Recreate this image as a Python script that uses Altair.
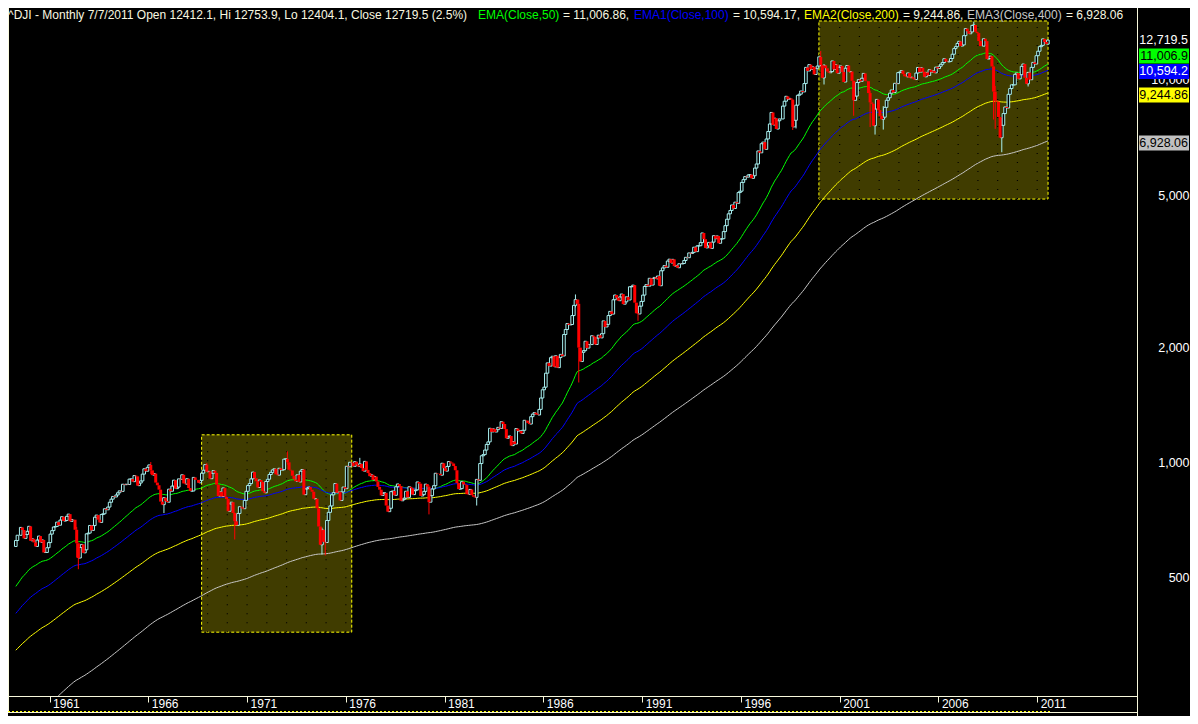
import altair as alt
import pandas as pd

# ---------------- data ----------------
first_open = 601.71          # open of the first candle (Apr 1959)
last_open = 12412.1          # open of the last candle (Jul 2011, from the header)
start_year, start_month = 1959, 4

closes_1959_1964 = [
    623.75, 643.79, 643.60, 674.88, 664.41, 631.68, 646.60, 659.18, 679.36,
    622.62, 630.12, 616.59, 601.70, 625.50, 640.62, 616.73, 625.99, 580.14, 580.36, 597.22, 615.89,
    648.20, 662.08, 676.63, 678.71, 696.72, 683.96, 705.37, 719.94, 701.21, 703.92, 721.60, 731.14,
    700.00, 708.05, 706.95, 665.33, 613.36, 561.28, 597.93, 609.18, 578.98, 589.77, 649.30, 652.10,
    682.85, 662.94, 682.52, 717.70, 726.96, 706.88, 695.43, 729.32, 732.79, 755.23, 750.52, 762.95,
    785.34, 800.14, 813.29, 810.77, 820.56, 831.50, 841.10, 838.48, 875.37, 873.08, 875.43, 874.13,
]
closes_1965_1969 = [
    902.86, 903.48, 889.05, 922.31, 918.04, 868.03, 881.74, 893.10, 930.58, 960.82, 946.71, 969.26,
    983.51, 951.89, 924.77, 933.68, 884.07, 870.10, 847.38, 788.41, 774.22, 807.07, 791.59, 785.69,
    849.89, 839.37, 865.98, 897.05, 852.56, 860.26, 904.24, 901.29, 926.66, 879.74, 875.81, 905.11,
    855.47, 840.50, 840.67, 912.22, 899.00, 897.80, 883.00, 896.01, 935.79, 952.39, 985.08, 943.75,
    946.05, 905.21, 935.48, 950.18, 937.56, 873.19, 815.47, 836.72, 813.09, 855.99, 812.30, 800.36,
]
closes_1970_1979 = [
    744.06, 777.59, 785.57, 736.07, 700.44, 683.53, 734.12, 764.58, 760.68, 755.61, 794.09, 838.92,
    868.50, 878.83, 904.37, 941.75, 907.81, 891.14, 858.43, 898.07, 887.19, 839.00, 831.34, 890.20,
    902.17, 928.13, 940.70, 954.17, 960.72, 929.03, 924.74, 963.73, 953.27, 955.52, 1018.21, 1020.02,
    999.02, 955.07, 951.01, 921.43, 901.41, 891.71, 926.40, 887.57, 947.10, 956.58, 822.25, 850.86,
    855.55, 860.53, 846.68, 836.75, 802.17, 802.41, 757.43, 678.58, 607.87, 665.52, 618.66, 616.24,
    703.69, 739.05, 768.15, 821.34, 832.29, 878.99, 831.51, 835.34, 793.88, 836.04, 860.67, 852.41,
    975.28, 972.61, 999.45, 996.85, 975.23, 1002.78, 984.64, 973.74, 990.19, 964.93, 947.22, 1004.65,
    954.37, 936.42, 919.13, 926.90, 898.66, 916.30, 890.07, 861.49, 847.11, 818.35, 829.70, 831.17,
    769.92, 742.12, 757.36, 837.32, 840.61, 818.95, 862.27, 876.82, 865.82, 792.45, 799.03, 805.01,
    839.22, 808.82, 862.18, 854.90, 822.33, 841.98, 846.42, 887.63, 878.58, 815.70, 822.35, 838.74,
]
closes_1980_1989 = [
    875.85, 863.14, 785.75, 817.06, 850.85, 867.92, 935.32, 932.59, 932.42, 924.49, 993.34, 963.99,
    947.27, 974.58, 1003.87, 997.75, 991.75, 976.88, 952.34, 881.47, 849.98, 852.55, 888.98, 875.00,
    871.10, 824.39, 822.77, 848.36, 819.54, 811.93, 808.60, 901.31, 896.25, 991.72, 1039.28, 1046.54,
    1075.70, 1112.62, 1130.03, 1226.20, 1199.98, 1221.96, 1199.22, 1216.16, 1233.13, 1225.20, 1276.02, 1258.64,
    1220.58, 1154.63, 1164.89, 1170.75, 1104.85, 1132.40, 1115.28, 1224.38, 1206.71, 1207.38, 1188.94, 1211.57,
    1286.77, 1284.01, 1266.78, 1258.06, 1315.41, 1335.46, 1347.45, 1334.01, 1328.63, 1374.31, 1472.13, 1546.67,
    1570.99, 1709.06, 1818.61, 1783.98, 1876.71, 1892.72, 1775.31, 1898.34, 1767.58, 1877.81, 1914.23, 1895.95,
    2158.04, 2223.99, 2304.69, 2286.36, 2291.57, 2418.53, 2572.07, 2662.95, 2596.28, 1993.53, 1833.55, 1938.83,
    1958.22, 2071.62, 1988.06, 2032.33, 2031.12, 2141.71, 2128.73, 2031.65, 2112.91, 2148.65, 2114.51, 2168.57,
    2342.32, 2258.39, 2293.62, 2418.80, 2480.15, 2440.06, 2660.66, 2737.27, 2692.82, 2645.08, 2706.27, 2753.20,
]
closes_1990_1999 = [
    2590.54, 2627.25, 2707.21, 2656.76, 2876.66, 2880.69, 2905.20, 2614.36, 2452.48, 2442.33, 2559.65, 2633.66,
    2736.39, 2882.18, 2913.86, 2887.87, 3027.50, 2906.75, 3024.82, 3043.60, 3016.77, 3069.10, 2894.68, 3168.83,
    3223.39, 3267.67, 3235.47, 3359.12, 3396.88, 3318.52, 3393.78, 3257.35, 3271.66, 3226.28, 3305.16, 3301.11,
    3310.03, 3370.81, 3435.11, 3427.55, 3527.43, 3516.08, 3539.47, 3651.25, 3555.12, 3680.59, 3683.95, 3754.09,
    3978.36, 3832.02, 3635.96, 3681.69, 3758.37, 3624.96, 3764.50, 3913.42, 3843.19, 3908.12, 3739.23, 3834.44,
    3843.86, 4011.05, 4157.69, 4321.27, 4465.14, 4556.10, 4708.47, 4610.56, 4789.08, 4755.48, 5074.49, 5117.12,
    5395.30, 5485.62, 5587.14, 5569.08, 5643.18, 5654.63, 5528.91, 5616.21, 5882.17, 6029.38, 6521.70, 6448.27,
    6813.09, 6877.74, 6583.48, 7008.99, 7331.04, 7672.79, 8222.61, 7622.42, 7945.26, 7442.08, 7823.13, 7908.25,
    7906.50, 8545.72, 8799.81, 9063.37, 8899.95, 8952.02, 8883.29, 7539.07, 7842.62, 8592.10, 9116.55, 9181.43,
    9358.83, 9306.58, 9786.16, 10789.04, 10559.74, 10970.80, 10655.15, 10829.28, 10336.95, 10729.94, 10877.81, 11497.12,
]
closes_2000_2009 = [
    10940.53, 10128.31, 10921.92, 10733.91, 10522.33, 10447.89, 10521.98, 11215.10, 10650.92, 10971.14, 10414.49, 10786.85,
    10887.36, 10495.28, 9878.78, 10734.97, 10911.94, 10502.40, 10522.81, 9949.75, 8847.56, 9075.14, 9851.56, 10021.50,
    9920.00, 10106.13, 10403.94, 9946.22, 9925.25, 9243.26, 8736.59, 8663.50, 7591.93, 8397.03, 8896.09, 8341.63,
    8053.81, 7891.08, 7992.13, 8480.09, 8850.26, 8985.44, 9233.80, 9415.82, 9275.06, 9801.12, 9782.46, 10453.92,
    10488.07, 10583.92, 10357.70, 10225.57, 10188.45, 10435.48, 10139.71, 10173.92, 10080.27, 10027.47, 10428.02, 10783.01,
    10489.94, 10766.23, 10503.76, 10192.51, 10467.48, 10274.97, 10640.91, 10481.60, 10568.70, 10440.07, 10805.87, 10717.50,
    10864.86, 10993.41, 11109.32, 11367.14, 11168.31, 11150.22, 11185.68, 11381.15, 11679.07, 12080.73, 12221.93, 12463.15,
    12621.69, 12268.63, 12354.35, 13062.91, 13627.64, 13408.62, 13211.99, 13357.74, 13895.63, 13930.01, 13371.72, 13264.82,
    12650.36, 12266.39, 12262.89, 12820.13, 12638.32, 11350.01, 11378.02, 11543.55, 10850.66, 9325.01, 8829.04, 8776.39,
    8000.86, 7062.93, 7608.92, 8168.12, 8500.33, 8447.00, 9171.61, 9496.28, 9712.28, 9712.73, 10344.84, 10428.05,
]
closes_2010_2011 = [
    10067.33, 10325.26, 10856.63, 11008.61, 10136.63, 9774.02, 10465.94, 10014.72, 10788.05, 11118.49, 11006.02, 11577.51,
    11891.93, 12226.34, 12319.73, 12810.54, 12569.79, 12414.34, 12719.49,
]

# notable intramonth extremes (wicks)
wick_months = ["1962-05", "1962-06", "1966-02", "1966-10", "1968-12", "1970-05", "1973-01",
               "1974-10", "1974-12", "1976-09", "1980-03", "1982-08", "1987-08", "1987-10",
               "1990-10", "1998-08", "1998-10", "2000-01", "2000-03", "2001-09", "2002-07",
               "2002-10", "2003-03", "2007-10", "2008-10", "2008-11", "2009-03", "2010-07", "2011-07"]
wick_highs = [677, 616, 1000.5, 810, 994.7, 738, 1067.2, 674, 624, 1026.3, 870, 901, 2746.7, 2662,
              2534, 8900, 8600, 11908.5, 11000, 9900, 9380, 8400, 8540, 14198.1, 10900, 9650, 7970,
              10500, 12753.9]
wick_lows = [563, 524.6, 930, 735.7, 943, 627.5, 985, 573.2, 570.0, 980, 730, 770, 2540, 1616.2,
             2344.3, 7400, 7467, 10800, 9731.8, 8062.3, 7532.7, 7197.5, 7416.6, 13400, 7882.5,
             7449.4, 6469.95, 9614.3, 12404.1]

ema_names = ["EMA50", "EMA100", "EMA200", "EMA400"]
ema_periods = [50, 100, 200, 400]
ema_seeds = [473, 402, 322, 190]          # values of the averages at the first candle
ema_colors = ["#00ff00", "#0000ff", "#ffff00", "#c8c8c8"]

tick_years = [1961, 1966, 1971, 1976, 1981, 1986, 1991, 1996, 2001, 2006, 2011]
price_ticks = [500, 1000, 2000, 5000, 10000]

last_texts = ["12,719.5", "11,006.9", "10,594.2", "9,244.86", "6,928.06"]
last_values = [12719.5, 11006.86, 10594.17, 9244.86, 6928.06]
last_fills = [None, "#00ff00", "#0000ff", "#ffff00", "#c0c0c0"]
last_text_colors = ["#ffffff", "#000000", "#ffffff", "#000000", "#000000"]
last_shift = [0, -8, 1, 2, 2]

box_starts = [1968.7, 1999.95]
box_ends = [1976.3, 2011.55]
box_lows = [359, 4880]
box_highs = [1179, 14270]

title_texts = ["^DJI - Monthly 7/7/2011 Open 12412.1, Hi 12753.9, Lo 12404.1, Close 12719.5 (2.5%)",
               "EMA(Close,50)", "= 11,006.86,", "EMA1(Close,100)", "= 10,594.17,",
               "EMA2(Close,200)", "= 9,244.86,", "EMA3(Close,400)", "= 6,928.06"]
title_colors = ["#f8f8e0", "#00ff00", "#f8f8e0", "#0000ff", "#f8f8e0",
                "#ffff00", "#f8f8e0", "#c8c8c8", "#f8f8e0"]
title_x = [0, 470, 555, 626, 725, 796, 895, 959, 1058]

# ---------------- build tables ----------------
CREAM = "#f8f8dc"
CYAN = "#a8f0f0"
RED = "#ff0000"
OLIVE = "#403c00"
FONT = "Liberation Sans"

closes = (closes_1959_1964 + closes_1965_1969 + closes_1970_1979 + closes_1980_1989
          + closes_1990_1999 + closes_2000_2009 + closes_2010_2011)
wicks = {m: (h, l) for m, h, l in zip(wick_months, wick_highs, wick_lows)}

rows = []
prev = first_open
n = len(closes)
for i, c in enumerate(closes):
    m0 = start_month - 1 + i
    yr = start_year + m0 // 12
    mo = m0 % 12 + 1
    o = last_open if i == n - 1 else prev
    top, bot = max(o, c), min(o, c)
    hi, lo = top, bot
    key = f"{yr}-{mo:02d}"
    if key in wicks:
        hi = max(hi, wicks[key][0])
        lo = min(lo, wicks[key][1])
    rows.append({"t": yr + (mo - 0.5) / 12, "open": o, "close": c, "top": top, "bot": bot,
                 "high": hi, "low": lo, "up": c >= o})
    prev = c
df = pd.DataFrame(rows)
up_df = df[df["up"]]
dn_df = df[~df["up"]]

ema_rows = []
for name, p, seed in zip(ema_names, ema_periods, ema_seeds):
    k = 2.0 / (p + 1)
    e = seed
    for i, r in enumerate(rows):
        if i > 0:
            e = e + k * (r["close"] - e)
        ema_rows.append({"t": r["t"], "v": e, "s": name})
ema_df = pd.DataFrame(ema_rows)

box_df = pd.DataFrame({"x1": box_starts, "x2": box_ends, "lo": box_lows, "hi": box_highs})
dot_rows = []
for s, e, lo, hi in zip(box_starts, box_ends, box_lows, box_highs):
    yv = int(s) + 1
    while yv < e:
        dot_rows.append({"t": yv, "lo": lo, "hi": hi})
        yv += 1
dot_df = pd.DataFrame(dot_rows)

# ---------------- scales / axes ----------------
W, H = 1129, 688
xs = alt.Scale(domain=[1959.15, 2015.8], nice=False, zero=False)
ys = alt.Scale(type="log", domain=[244.4, 15430], nice=False)

x_axis = alt.Axis(values=tick_years, format="d", title=None, grid=False, domainColor=CREAM,
                  domainWidth=1, tickColor=CREAM, tickSize=6, tickWidth=1, labelColor="#ffffff",
                  labelFont=FONT, labelFontSize=12, labelAlign="left",
                  labelBaseline="top", labelPadding=-4, labelOffset=3, labelFlush=False,
                  labelOverlap=False)
y_axis = alt.Axis(orient="right", values=price_ticks, format=",", title=None, grid=False,
                  domain=False, ticks=False, tickSize=0, labelColor="#ffffff",
                  labelFont=FONT, labelFontSize=12.5, labelAlign="right",
                  labelBaseline="middle", labelPadding=52, labelFlush=False, labelOverlap=False)


def X(field):
    return alt.X(field, type="quantitative", scale=xs, axis=x_axis)


def Y(field):
    return alt.Y(field, type="quantitative", scale=ys, axis=y_axis)


boxes = alt.Chart(box_df).mark_rect(fill=OLIVE, stroke="#ffff00", strokeWidth=1,
                                    strokeDash=[3, 2]).encode(
    x=X("x1"), x2="x2", y=Y("lo"), y2="hi")

dots = alt.Chart(dot_df).mark_rule(color="#000000", strokeWidth=1.2, strokeDash=[1, 8]).encode(
    x=X("t"), y=Y("lo"), y2="hi")

lines = alt.Chart(ema_df).mark_line(strokeWidth=1, clip=True).encode(
    x=X("t"), y=Y("v"),
    color=alt.Color("s:N", scale=alt.Scale(domain=ema_names, range=ema_colors), legend=None),
    detail="s:N")


def wick(data, col, lo, hi):
    return alt.Chart(data).mark_rule(color=col, strokeWidth=1, clip=True).encode(
        x=X("t"), y=Y(lo), y2=hi)


up_wick_hi = wick(up_df, CYAN, "top", "high")
up_wick_lo = wick(up_df, CYAN, "low", "bot")
dn_wick_hi = wick(dn_df, RED, "top", "high")
dn_wick_lo = wick(dn_df, RED, "low", "bot")

up_body = alt.Chart(up_df).mark_bar(width=2.6, fill="#000000", stroke=CYAN, strokeWidth=1,
                                    clip=True).encode(
    x=X("t"), y=Y("bot"), y2="top")
dn_body = alt.Chart(dn_df).mark_bar(width=3, fill=RED, clip=True).encode(
    x=X("t"), y=Y("bot"), y2="top")

# frame lines
one = pd.DataFrame({"a": [0]})
frame = [
    alt.Chart(one).mark_rule(color=CREAM, strokeWidth=1).encode(
        x=alt.value(W + 0.5), y=alt.value(0), y2=alt.value(H + 20)),
    alt.Chart(one).mark_rule(color=CREAM, strokeWidth=1).encode(
        x=alt.value(0.5), y=alt.value(0), y2=alt.value(H + 16)),
    alt.Chart(one).mark_rule(color=CREAM, strokeWidth=1).encode(
        x=alt.value(0), x2=alt.value(W), y=alt.value(H + 16.5)),
    alt.Chart(one).mark_rule(color="#ffff00", strokeWidth=1, strokeDash=[2, 2]).encode(
        x=alt.value(0), x2=alt.value(1044), y=alt.value(H + 15.5)),
]

# header
header = []
for txt, col, xp in zip(title_texts, title_colors, title_x):
    header.append(alt.Chart(pd.DataFrame({"s": [txt]})).mark_text(
        align="left", baseline="alphabetic", font=FONT, fontSize=12, color=col).encode(
        x=alt.value(xp), y=alt.value(10.5), text="s:N"))

# last-value labels on the right
labels = []
for txt, val, fill, tcol, sh in zip(last_texts, last_values, last_fills, last_text_colors, last_shift):
    d = pd.DataFrame({"v": [val], "s": [txt]})
    if fill is not None:
        labels.append(alt.Chart(d).mark_rule(strokeWidth=15, color=fill, yOffset=sh).encode(
            x=alt.value(W + 2), x2=alt.value(W + 52), y=Y("v")))
    labels.append(alt.Chart(d).mark_text(align="right", baseline="middle", font=FONT,
                                         fontSize=12.5, color=tcol, yOffset=sh).encode(
        x=alt.value(W + 51), y=Y("v"), text="s:N"))

chart = alt.layer(
    boxes, dots, lines, up_wick_hi, up_wick_lo, dn_wick_hi, dn_wick_lo, up_body, dn_body,
    *frame, *header, *labels
).properties(
    width=W, height=H,
    autosize=alt.AutoSizeParams(type="none"),
    padding={"left": 0, "top": 0, "right": 53, "bottom": 20},
    background="#000000",
).configure_view(stroke=None)

chart.save("out.html", embed_options={"renderer": "svg", "actions": False})
